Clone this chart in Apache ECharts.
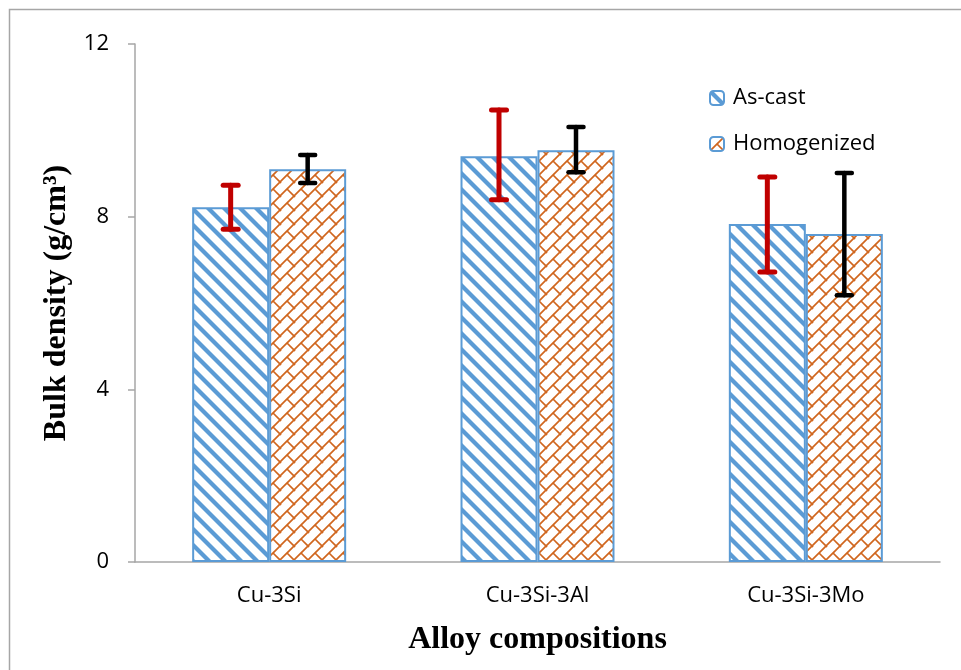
<!DOCTYPE html>
<html>
<head>
<meta charset="utf-8">
<script src="https://cdn.jsdelivr.net/npm/echarts@6/dist/echarts.min.js"></script>
<style>
  html, body { margin: 0; padding: 0; background: #fff; }
  #chart { width: 961px; height: 670px; }
</style>
</head>
<body>
<div id="chart"></div>
<script>
var categories = ['Cu-3Si', 'Cu-3Si-3Al', 'Cu-3Si-3Mo'];
var seriesNames = ['As-cast', 'Homogenized'];
var asCast = [8.22, 9.40, 7.83];
var homogenized = [9.10, 9.54, 7.60];
// error bar ends [low, high]
var asCastErr = [[7.71, 8.73], [8.39, 10.47], [6.72, 8.92]];
var homogenizedErr = [[8.78, 9.43], [9.03, 10.08], [6.18, 9.01]];
var yTicks = [0, 4, 8, 12];

var BAR_W = 77;

// hatch fills like the excel patterns
function stripePattern() {
    var c = document.createElement('canvas');
    var s = 16;
    c.width = s; c.height = s;
    var ctx = c.getContext('2d');
    ctx.fillStyle = '#fff';
    ctx.fillRect(0, 0, s, s);
    ctx.strokeStyle = '#5b9bd5';
    ctx.lineWidth = 4.2;
    [-s, 0, s].forEach(function (o) {
        ctx.beginPath();
        ctx.moveTo(o - 2, -2);
        ctx.lineTo(o + s + 2, s + 2);
        ctx.stroke();
    });
    return c;
}

function brickPattern() {
    var c = document.createElement('canvas');
    var s = 14;
    c.width = s; c.height = s;
    var ctx = c.getContext('2d');
    ctx.fillStyle = '#fff';
    ctx.fillRect(0, 0, s, s);
    ctx.strokeStyle = '#d0661e';
    ctx.lineWidth = 1.7;
    [-s, 0, s].forEach(function (o) {
        ctx.beginPath();
        ctx.moveTo(o - 1, s + 1);
        ctx.lineTo(o + s + 1, -1);
        ctx.stroke();
    });
    ctx.beginPath();
    ctx.moveTo(s / 2, s / 2);
    ctx.lineTo(s + 1, s + 1);
    ctx.stroke();
    ctx.beginPath();
    ctx.moveTo(-s / 2, -s / 2);
    ctx.lineTo(1, 1);
    ctx.stroke();
    return c;
}

function errSeries(name, errs, offset, color, width) {
    return {
        type: 'custom',
        name: name + ' err',
        z: 5,
        data: errs.map(function (e, i) { return [i, e[0], e[1]]; }),
        encode: { x: 0, y: [1, 2] },
        renderItem: function (params, api) {
            var lo = api.coord([api.value(0), api.value(1)]);
            var hi = api.coord([api.value(0), api.value(2)]);
            var x = lo[0] + offset;
            var cap = 7.5;
            var st = { stroke: color, lineWidth: width, lineCap: 'round' };
            return {
                type: 'group',
                children: [
                    { type: 'line', shape: { x1: x, y1: lo[1], x2: x, y2: hi[1] }, style: st },
                    { type: 'line', shape: { x1: x - cap, y1: hi[1], x2: x + cap, y2: hi[1] }, style: st },
                    { type: 'line', shape: { x1: x - cap, y1: lo[1], x2: x + cap, y2: lo[1] }, style: st }
                ]
            };
        }
    };
}

var myChart = echarts.init(document.getElementById('chart'));
var font = 'Open Sans';
var option = {
    backgroundColor: '#fff',
    animation: false,
    graphic: [{
        type: 'rect',
        shape: { x: 9.5, y: 9.5, width: 960, height: 680 },
        style: { fill: null, stroke: '#a6a6a6', lineWidth: 1.5 },
        silent: true
    }],
    grid: { left: 135, top: 44, right: 21, bottom: 108 },
    legend: {
        orient: 'vertical',
        left: 704,
        top: 82,
        itemGap: 24,
        itemWidth: 14,
        itemHeight: 14,
        data: seriesNames,
        textStyle: { fontFamily: font, fontSize: 22, color: '#000', padding: [0, 0, 0, 4] }
    },
    xAxis: {
        type: 'category',
        data: categories,
        name: 'Alloy compositions',
        nameLocation: 'middle',
        nameGap: 62,
        nameTextStyle: { fontFamily: 'Liberation Serif', fontWeight: 'bold', fontSize: 32, color: '#000' },
        axisLine: { lineStyle: { color: '#a6a6a6', width: 1.5 } },
        axisTick: { length: 8, lineStyle: { color: '#a6a6a6', width: 1.5 } },
        axisLabel: { fontFamily: font, fontSize: 22, color: '#000', margin: 23 }
    },
    yAxis: {
        type: 'value',
        min: yTicks[0],
        max: yTicks[yTicks.length - 1],
        interval: 4,
        name: 'Bulk density (g/cm³)',
        nameLocation: 'middle',
        nameGap: 62,
        nameTextStyle: { fontFamily: 'Liberation Serif', fontWeight: 'bold', fontSize: 32, color: '#000' },
        axisLine: { show: true, lineStyle: { color: '#a6a6a6', width: 1.5 } },
        axisTick: { show: true, length: 7, lineStyle: { color: '#a6a6a6', width: 1.5 } },
        splitLine: { show: false },
        axisLabel: { fontFamily: font, fontSize: 22, color: '#000', margin: 26 }
    },
    series: [
        {
            type: 'bar',
            name: seriesNames[0],
            data: asCast,
            barWidth: BAR_W,
            barGap: '0%',
            itemStyle: { color: { image: stripePattern(), repeat: 'repeat' }, borderColor: '#5b9bd5', borderWidth: 2 }
        },
        {
            type: 'bar',
            name: seriesNames[1],
            data: homogenized,
            barWidth: BAR_W,
            barGap: '0%',
            itemStyle: { color: { image: brickPattern(), repeat: 'repeat' }, borderColor: '#5b9bd5', borderWidth: 2 }
        },
        errSeries(seriesNames[0], asCastErr, -BAR_W / 2, '#c00000', 5),
        errSeries(seriesNames[1], homogenizedErr, BAR_W / 2, '#000000', 4.5)
    ]
};
myChart.setOption(option);
window.addEventListener('resize', function () {
    myChart.resize();
});
</script>
</body>
</html>
